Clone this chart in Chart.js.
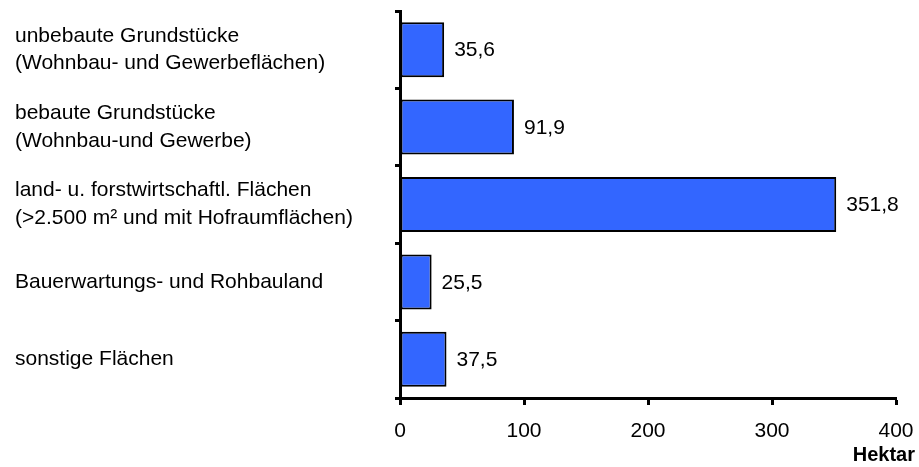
<!DOCTYPE html>
<html>
<head>
<meta charset="utf-8">
<script src="https://cdn.jsdelivr.net/npm/chart.js@4/dist/chart.umd.min.js"></script>
<style>
  html, body { margin: 0; padding: 0; background: #fff; }
  #wrap { width: 919px; height: 467px; }
</style>
</head>
<body>
<div id="wrap"><canvas id="landChart"></canvas></div>
<script>
// Flächen nach Art (Hektar)
const categories = [
    ['unbebaute Grundstücke', '(Wohnbau- und Gewerbeflächen)'],
    ['bebaute Grundstücke', '(Wohnbau-und Gewerbe)'],
    ['land- u. forstwirtschaftl. Flächen', '(>2.500 m² und mit Hofraumflächen)'],
    'Bauerwartungs- und Rohbauland',
    'sonstige Flächen'
];
const hectares = [35.6, 91.9, 351.8, 25.5, 37.5];
const xTicks = [0, 100, 200, 300, 400];
const unitLabel = 'Hektar';

const FONT = 'Arial, "Liberation Sans", sans-serif';

// value labels next to each bar + unit label under the axis
const labelPlugin = {
    id: 'barLabels',
    afterDatasetsDraw(chart) {
        const ctx = chart.ctx;
        const meta = chart.getDatasetMeta(0);
        ctx.save();
        ctx.font = '21px ' + FONT;
        ctx.fillStyle = '#000';
        ctx.textAlign = 'left';
        ctx.textBaseline = 'middle';
        meta.data.forEach((bar, i) => {
            const txt = hectares[i].toFixed(1).replace('.', ',');
            ctx.fillText(txt, bar.x + 10, bar.y + 1);
        });
        ctx.restore();
    },
    afterDraw(chart) {
        const ctx = chart.ctx;
        const xScale = chart.scales.x;
        ctx.save();
        ctx.font = 'bold 20px ' + FONT;
        ctx.fillStyle = '#000';
        ctx.textAlign = 'right';
        ctx.textBaseline = 'middle';
        ctx.fillText(unitLabel, xScale.right + 19, xScale.bottom - 12);
        ctx.restore();
    }
};

const ctx = document.getElementById('landChart').getContext('2d');
new Chart(ctx, {
    type: 'bar',
    data: {
        labels: categories,
        datasets: [{
            data: hectares,
            backgroundColor: '#3366ff',
            borderColor: '#000',
            borderWidth: 2,
            borderSkipped: false,
            barPercentage: 0.71,
            categoryPercentage: 1
        }]
    },
    options: {
        indexAxis: 'y',
        responsive: true,
        maintainAspectRatio: false,
        animation: false,
        layout: { padding: { left: 15, top: 11, right: 23, bottom: 0 } },
        plugins: {
            legend: { display: false },
            tooltip: { enabled: false }
        },
        scales: {
            x: {
                min: 0,
                max: 400,
                afterBuildTicks: (scale) => { scale.ticks = xTicks.map(v => ({ value: v })); },
                afterFit: (scale) => {
                    scale.height = 69;
                    scale.paddingLeft = 0;
                    scale.paddingRight = 0;
                },
                grid: {
                    drawOnChartArea: false,
                    drawTicks: true,
                    tickLength: 7,
                    tickWidth: 3,
                    tickColor: '#000'
                },
                border: { display: true, color: '#000', width: 3 },
                ticks: {
                    color: '#000',
                    padding: 14,
                    maxRotation: 0,
                    font: { family: FONT, size: 21 }
                }
            },
            y: {
                afterFit: (scale) => {
                    scale.width = 385;
                    scale.paddingTop = 0;
                    scale.paddingBottom = 0;
                },
                grid: {
                    offset: true,
                    drawOnChartArea: false,
                    drawTicks: true,
                    tickLength: 5,
                    tickWidth: 3,
                    tickColor: '#000'
                },
                border: { display: true, color: '#000', width: 3 },
                ticks: {
                    color: '#000',
                    crossAlign: 'far',
                    font: { family: FONT, size: 21, lineHeight: 1.33 }
                }
            }
        }
    },
    plugins: [labelPlugin]
});
</script>
</body>
</html>
